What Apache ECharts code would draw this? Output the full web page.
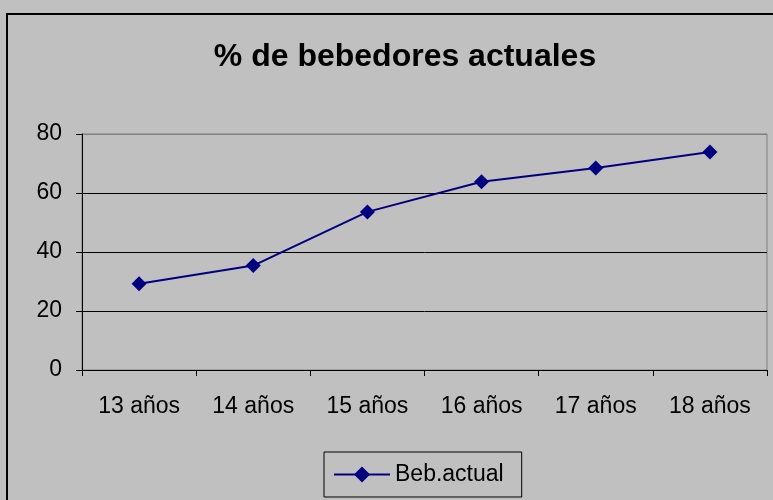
<!DOCTYPE html>
<html>
<head>
<meta charset="utf-8">
<script src="https://cdn.jsdelivr.net/npm/echarts@6/dist/echarts.min.js"></script>
<style>
html, body { margin: 0; padding: 0; background: #c0c0c0; }
#chart { width: 773px; height: 500px; }
</style>
</head>
<body>
<div id="chart"></div>
<script>
var categories = ['13 años', '14 años', '15 años', '16 años', '17 años', '18 años'];
var bebActual = [29.2, 35.4, 53.6, 63.8, 68.5, 73.9];
var yTicks = [0, 20, 40, 60, 80];

var fontName = '"Liberation Sans", Arial, sans-serif';

var option = {
    backgroundColor: '#c0c0c0',
    animation: false,
    title: {
        text: '% de bebedores actuales',
        left: 400,
        top: 36,
        textAlign: 'center',
        textStyle: {
            fontFamily: fontName,
            fontSize: 32,
            fontWeight: 'bold',
            color: '#000'
        }
    },
    graphic: [{
        type: 'rect',
        shape: { x: 7, y: 14, width: 820, height: 540 },
        style: { fill: 'none', stroke: '#000', lineWidth: 2 },
        silent: true
    }],
    legend: {
        data: ['Beb.actual'],
        left: 324,
        top: 452,
        padding: [11, 18, 11, 9],
        borderColor: '#000',
        borderWidth: 1,
        itemWidth: 56,
        itemHeight: 20,
        itemGap: 6,
        textStyle: {
            fontFamily: fontName,
            fontSize: 23,
            color: '#000'
        }
    },
    grid: {
        left: 82,
        top: 134,
        width: 685,
        height: 236,
        show: true,
        borderColor: '#808080',
        borderWidth: 1,
        backgroundColor: 'transparent'
    },
    xAxis: {
        type: 'category',
        data: categories,
        boundaryGap: true,
        axisLine: { lineStyle: { color: '#000', width: 1 } },
        axisTick: { show: true, length: 6, lineStyle: { color: '#000' } },
        axisLabel: {
            margin: 25,
            fontFamily: fontName,
            fontSize: 23,
            color: '#000'
        }
    },
    yAxis: {
        type: 'value',
        min: yTicks[0],
        max: yTicks[yTicks.length - 1],
        interval: 20,
        axisLine: { show: true, lineStyle: { color: '#000', width: 1 } },
        axisTick: { show: true, length: 6, lineStyle: { color: '#000' } },
        axisLabel: {
            margin: 20,
            fontFamily: fontName,
            fontSize: 23,
            color: '#000'
        },
        splitLine: {
            show: true,
            lineStyle: { color: ['#000', '#000', '#000', '#000', '#808080'], width: 1 }
        }
    },
    series: [{
        name: 'Beb.actual',
        type: 'line',
        data: bebActual,
        symbol: 'diamond',
        symbolSize: 15,
        lineStyle: { color: '#000080', width: 2 },
        itemStyle: { color: '#000080' }
    }]
};

var chart = echarts.init(document.getElementById('chart'));
chart.setOption(option);
</script>
</body>
</html>
